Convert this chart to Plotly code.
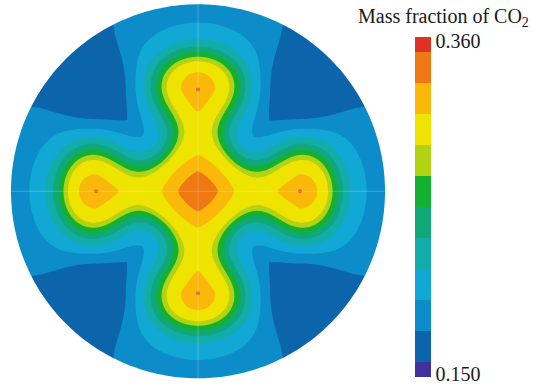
import numpy as np
import plotly.graph_objects as go

# ---- colour scale: 12 discrete bands from 0.150 to 0.360 ----
level_min, level_max = 0.150, 0.360
band_colors = ["#4030a0", "#0c64aa", "#0c8cc8", "#12a8d6", "#12acaa", "#10a878",
               "#14b032", "#b2d214", "#eee400", "#fab80a", "#ee7812", "#de3224"]
tick_values = [0.150, 0.360]
tick_labels = ["0.150", "0.360"]

# ---- injection wells (coordinates in units of the domain radius) ----
well_x = [0.545, -0.545, 0.0, 0.0]
well_y = [0.0, 0.0, 0.545, -0.545]

# ---- plume model parameters (band-index units) ----
plume_strength = 1.9
centre_diamond = 0.26          # |x| + |y| extent of the central plume
line_strength, line_half, line_len = 3.5, 0.03, 0.45
bulb_dist, bulb_lat, bulb_ax = 0.565, 0.21, 0.14
blur_sigma = 0.10
saturation = 20.0
base_level = 0.8
ridge_level = 1.5
ridge_w = [0.38, 0.47]
ridge_s = [0.55, 0.92]
ridge_pow = 8
core_level = 5.9
centre_peak, centre_scale, centre_pow, centre_norm = 2.0, 0.15, 2.5, 1.3
cap_peak, cap_out, cap_in, cap_wid, cap_skew = 0.7, 0.10, 0.13, 0.10, 0.7

n_bands = len(band_colors)
step = (level_max - level_min) / (n_bands - 1)

# ---- build the field on a periodic grid ----
N, L = 512, 1.5
g = np.linspace(-L, L, N, endpoint=False)
U, V = np.meshgrid(g, g)
h = g[1] - g[0]
freq = np.fft.fftfreq(N, d=h) * 2 * np.pi
KX, KY = np.meshgrid(freq, freq)
kernel = np.exp(-0.5 * blur_sigma ** 2 * (KX ** 2 + KY ** 2))

# source intensity: central diamond, bulbs around the wells, thin feed lines along the axes
body = (np.abs(U) + np.abs(V)) < centre_diamond
for wx, wy in zip(well_x, well_y):
    r0 = np.hypot(wx, wy)
    dx, dy = wx / r0, wy / r0
    a = U * dx + V * dy - bulb_dist
    b = -U * dy + V * dx
    body |= (a / bulb_ax) ** 2 + (b / bulb_lat) ** 2 < 1
lines = ((np.abs(V) < line_half) & (np.abs(U) < line_len)) | ((np.abs(U) < line_half) & (np.abs(V) < line_len))
source = np.maximum(plume_strength * body, line_strength * lines)

B = np.real(np.fft.ifft2(np.fft.fft2(source) * kernel))
B = np.clip(B, 0, None)
S = 1.0 - np.log1p(np.exp(saturation * (1.0 - B))) / saturation


def smoothstep(t):
    t = np.clip(t, 0, 1)
    return t * t * (3 - 2 * t)


def ridge(across, along):
    w = ridge_w[0] + (ridge_w[1] - ridge_w[0]) * smoothstep((np.abs(along) - ridge_s[0]) / (ridge_s[1] - ridge_s[0]))
    return np.exp(-(np.abs(across) / w) ** ridge_pow)


R = np.maximum(ridge(U, V), ridge(V, U))
nrm = (np.abs(U) ** centre_norm + np.abs(V) ** centre_norm) ** (1 / centre_norm)
centre = centre_peak * np.exp(-(nrm / centre_scale) ** centre_pow)

caps = np.zeros_like(U)
for wx, wy in zip(well_x, well_y):
    r0 = np.hypot(wx, wy)
    dx, dy = wx / r0, wy / r0
    a = (U - wx) * dx + (V - wy) * dy
    b = -(U - wx) * dy + (V - wy) * dx
    ln = np.where(a > 0, cap_out, cap_in)
    wid = cap_wid * np.clip(1 + cap_skew * a / cap_in, 0.2, 1.0)
    caps += cap_peak * np.exp(-(a / ln) ** 2 - (b / wid) ** 2)

k = base_level + ridge_level * R + core_level * S + centre + caps
field = level_min + k * step

keep = np.abs(g) <= 1.012
xs = g[keep]
zs = np.round(field[np.ix_(keep, keep)], 5)

colorscale = [[i / (n_bands - 1), c] for i, c in enumerate(band_colors)]

# tick labels sit just inside the bar ends
tick_pos = [tick_values[0] + 0.0018, tick_values[1] - 0.0025]

fig = go.Figure()
fig.add_trace(go.Contour(
    x=xs, y=xs, z=zs,
    colorscale=colorscale,
    autocontour=False,
    contours=dict(start=level_min + step / 2, end=level_max - step / 2 + 1e-9, size=step,
                  coloring="fill", showlines=False),
    line=dict(width=0),
    hoverinfo="skip",
    colorbar=dict(
        x=415 / 540, xanchor="left", xpad=0,
        y=1 - 37 / 386, yanchor="top", ypad=0,
        lenmode="pixels", len=340, thickness=16, outlinewidth=0,
        tickvals=tick_pos, ticktext=tick_labels, ticks="", ticklabeloverflow="allow",
        tickfont=dict(family="Liberation Serif", size=20, color="#1a1a1a"),
    ),
))

fig.add_trace(go.Scatter(
    x=well_x, y=well_y, mode="markers",
    marker=dict(size=4, color="#e4622a"), hoverinfo="skip", showlegend=False,
))

# white mask outside the circular domain, faint axis lines inside
pad = 0.02
theta = np.linspace(0, 2 * np.pi, 361)
circle = " ".join(f"L {np.cos(t):.5f},{np.sin(t):.5f}" for t in theta)
circle = "M" + circle[1:] + " Z"
mask = "M -1.5,-1.5 L 1.5,-1.5 L 1.5,1.5 L -1.5,1.5 Z " + circle
fig.update_layout(shapes=[
    dict(type="line", x0=-1, x1=1, y0=0, y1=0, line=dict(color="rgba(255,255,255,0.22)", width=1)),
    dict(type="line", x0=0, x1=0, y0=-1, y1=1, line=dict(color="rgba(255,255,255,0.22)", width=1)),
    dict(type="path", path=mask, fillcolor="white", fillrule="evenodd", line=dict(width=0)),
])

fig.add_annotation(
    text="Mass fraction of CO<sub>2</sub>", x=443 / 540, y=1 - 18 / 386,
    xref="paper", yref="paper", xanchor="center", yanchor="middle", showarrow=False,
    font=dict(family="Liberation Serif", size=20, color="#1a1a1a"),
)

# circle centre (198, 191.3) px, radius 187 px
cxp, cyp, rp = 198.0, 191.3, 187.0
fig.update_layout(
    width=540, height=386, margin=dict(l=0, r=0, t=0, b=0),
    paper_bgcolor="white", plot_bgcolor="white", showlegend=False,
    xaxis=dict(domain=[(cxp - rp * (1 + pad)) / 540, (cxp + rp * (1 + pad)) / 540],
               range=[-1 - pad, 1 + pad], visible=False, fixedrange=True),
    yaxis=dict(domain=[max(0, 1 - (cyp + rp * (1 + pad)) / 386), min(1, 1 - (cyp - rp * (1 + pad)) / 386)],
               range=[-1 - pad, 1 + pad], visible=False, fixedrange=True),
)

fig.write_html("out.html")
